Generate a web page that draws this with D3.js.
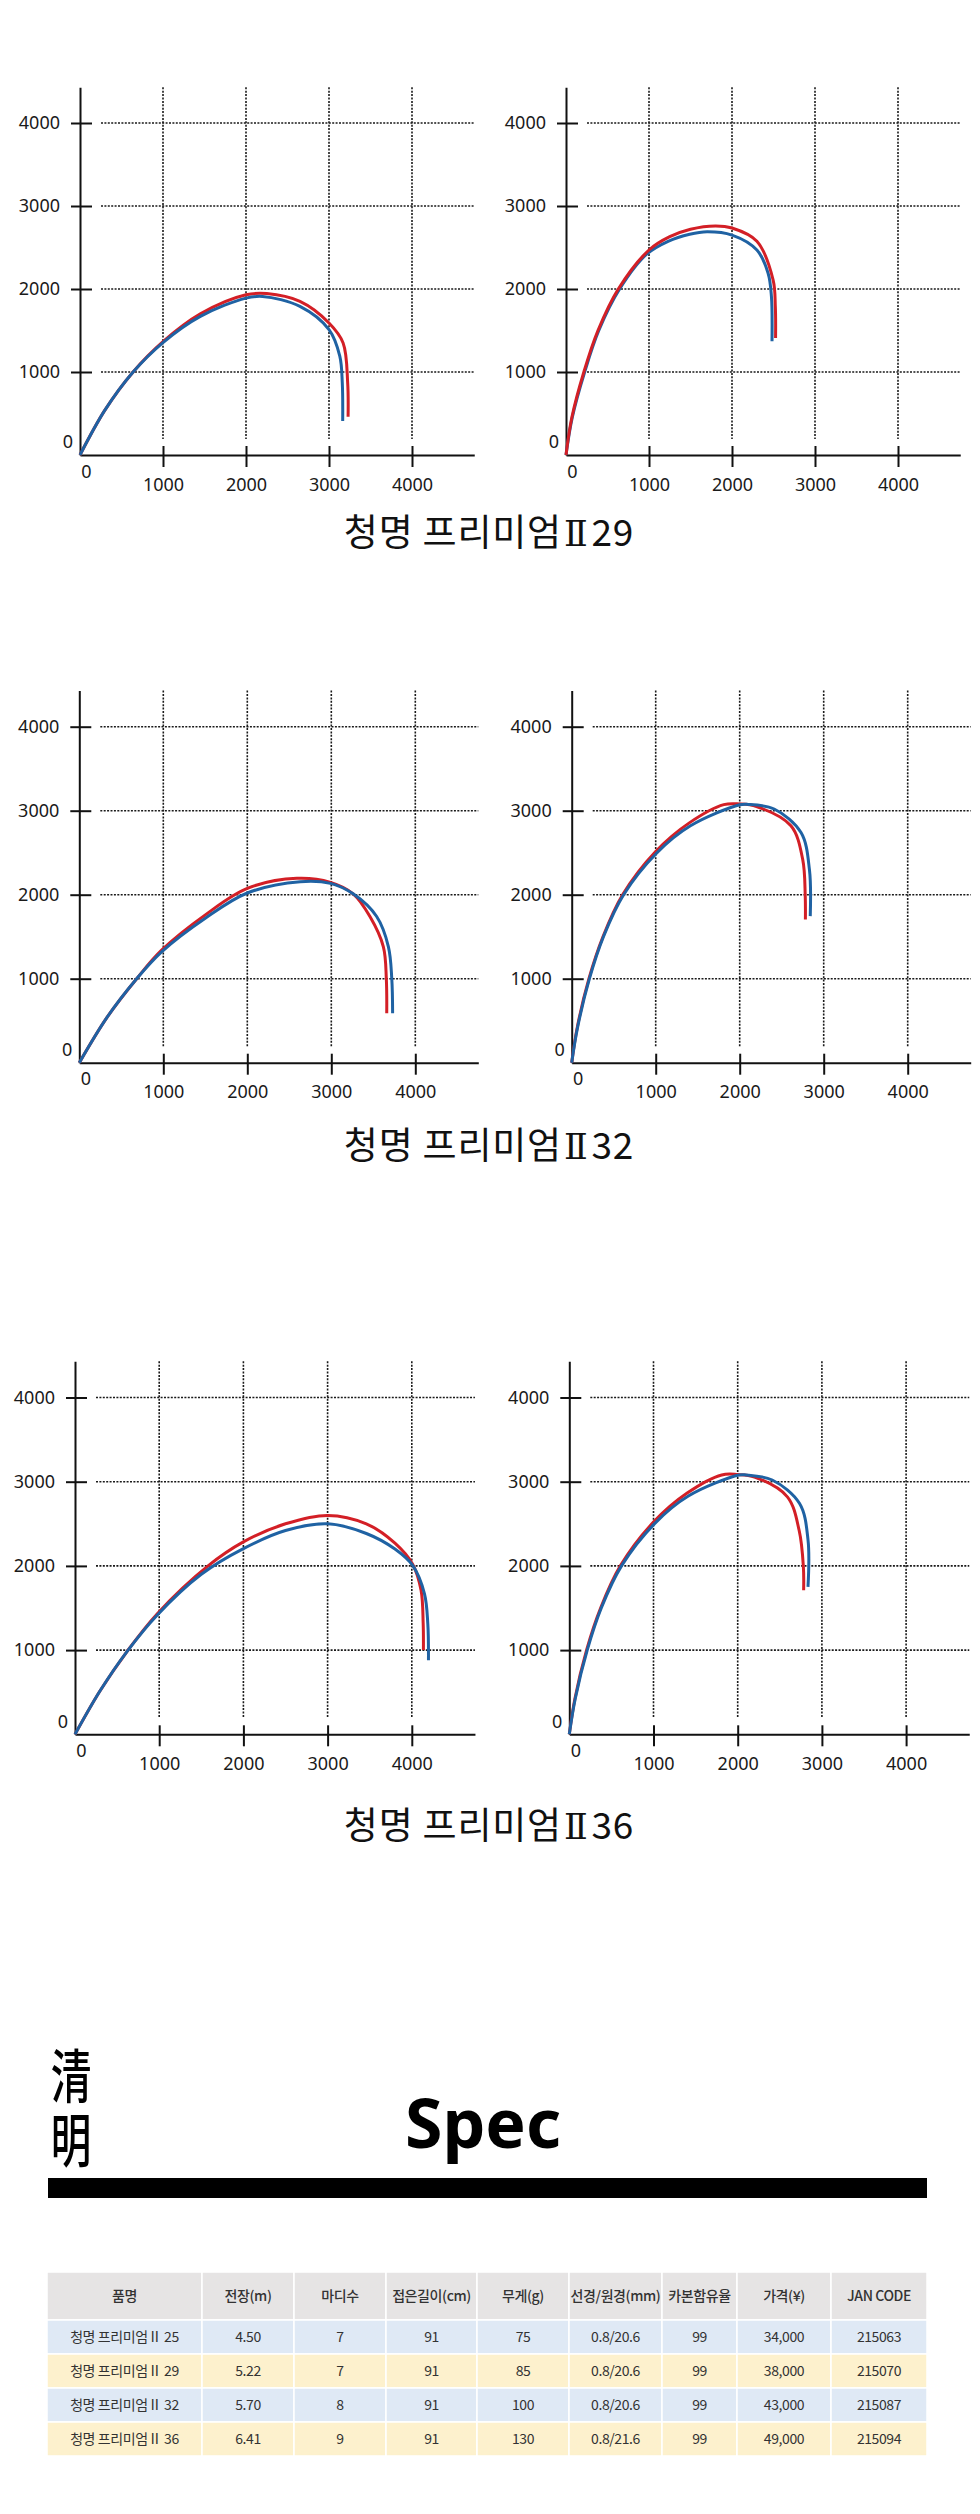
<!DOCTYPE html>
<meta charset="utf-8">
<script src="https://d3js.org/d3.v7.min.js"></script>
<style>
body { margin: 0; background: #fff; }
svg text { font-family: "Noto Sans", "Open Sans", sans-serif; }
.grid line { stroke: #1a1a1a; stroke-width: 1.6; stroke-dasharray: 2,1.4; }
.axis path, .axis line { stroke: #111; stroke-width: 2; }
.axis text { font-size: 18px; fill: #1a1a1a; font-family: "Noto Sans", sans-serif; }
.title { font-family: "Noto Sans CJK KR", sans-serif; font-size: 37px; fill: #111; letter-spacing: 0.8px; }
.cell text { font-family: "Noto Sans CJK KR", sans-serif; font-size: 14px; fill: #333; letter-spacing: -0.4px; }
</style>
<div id="my_dataviz"></div>
<script>

// tick values shared by the six plots
var xTicks = [0, 1000, 2000, 3000, 4000];
var yTicks = [0, 1000, 2000, 3000, 4000];

var titles = ["청명 프리미엄Ⅱ29", "청명 프리미엄Ⅱ32", "청명 프리미엄Ⅱ36"];

// trajectories [distance, height]
var blue29L = [[0,0],[300,540],[640,1000],[1000,1355],[1450,1670],[2000,1890],[2200,1910],[2650,1790],[3000,1510],[3130,1190],[3160,870],[3165,410]];
var red29L  = [[0,0],[300,540],[640,1000],[1000,1365],[1450,1700],[2000,1930],[2250,1945],[2650,1850],[3000,1590],[3170,1350],[3225,870],[3230,460]];

var blue29R = [[0,0],[75,450],[225,1000],[395,1500],[646,2000],[972,2420],[1230,2575],[1490,2660],[1700,2690],[2000,2650],[2300,2470],[2435,2190],[2475,1910],[2482,1370]];
var red29R  = [[0,0],[70,450],[215,1000],[385,1500],[630,2000],[1000,2470],[1250,2630],[1500,2720],[1800,2760],[2000,2735],[2300,2575],[2495,2110],[2522,1790],[2525,1410]];

var blue32L = [[0,0],[330,540],[683,1000],[980,1320],[1500,1720],[2000,2020],[2630,2155],[2990,2135],[3260,2010],[3540,1740],[3680,1380],[3720,1000],[3730,590]];
var red32L  = [[0,0],[330,540],[683,1000],[980,1340],[1500,1760],[2000,2075],[2590,2195],[2990,2147],[3260,2010],[3460,1740],[3620,1380],[3655,1000],[3660,590]];

var blue32R = [[0,0],[70,420],[211,1000],[378,1500],[618,2000],[1016,2500],[1414,2820],[2000,3070],[2100,3075],[2410,3020],[2730,2740],[2830,2300],[2840,1745]];
var red32R  = [[0,0],[66,420],[205,1000],[372,1500],[606,2000],[1000,2515],[1400,2855],[1810,3072],[2000,3080],[2200,3050],[2610,2820],[2750,2420],[2780,1990],[2782,1705]];

var blue36L = [[0,0],[300,520],[615,980],[975,1415],[1500,1900],[2000,2205],[2500,2420],[3000,2500],[3460,2385],[3800,2200],[4010,2005],[4150,1670],[4190,1315],[4198,880]];
var red36L  = [[0,0],[300,520],[615,980],[975,1430],[1580,2000],[2000,2285],[2500,2500],[3000,2600],[3460,2500],[3800,2270],[4010,2020],[4110,1710],[4135,1320],[4138,1000]];

var blue36R = [[0,0],[70,420],[213,1000],[380,1500],[620,2000],[1016,2505],[1414,2830],[2015,3080],[2100,3080],[2410,3020],[2735,2740],[2835,2310],[2835,1750]];
var red36R  = [[0,0],[66,420],[205,1000],[372,1500],[606,2000],[1000,2520],[1400,2865],[1810,3080],[2000,3085],[2200,3055],[2590,2820],[2730,2420],[2780,1990],[2783,1710]];

// spec table
var specHeaders  = ["품명", "전장(m)", "마디수", "접은길이(cm)", "무게(g)", "선경/원경(mm)", "카본함유율", "가격(¥)", "JAN CODE"];
var models       = ["청명 프리미엄Ⅱ 25", "청명 프리미엄Ⅱ 29", "청명 프리미엄Ⅱ 32", "청명 프리미엄Ⅱ 36"];
var lengths      = ["4.50", "5.22", "5.70", "6.41"];
var sections     = ["7", "7", "8", "9"];
var closedLength = ["91", "91", "91", "91"];
var weights      = ["75", "85", "100", "130"];
var diameters    = ["0.8/20.6", "0.8/20.6", "0.8/20.6", "0.8/21.6"];
var carbon       = ["99", "99", "99", "99"];
var prices       = ["34,000", "38,000", "43,000", "49,000"];
var janCodes     = ["215063", "215070", "215087", "215094"];

var svg = d3.select("#my_dataviz")
  .append("svg")
    .attr("width", 980)
    .attr("height", 2514);

svg.append("rect").attr("width", 980).attr("height", 2514).attr("fill", "#fff");

var blueColor = "#1f62a3",
    redColor = "#d31f26";

// plot placement: origin of each plot and pixels per 1000
var rows = [
  {y0: 455,    k: 83,   x0: [80, 566],     titleY: 546},
  {y0: 1062.7, k: 84,   x0: [79.3, 571.7], titleY: 1159},
  {y0: 1734.3, k: 84.2, x0: [75, 569.3],   titleY: 1839}
];

var panels = [
  {row: 0, side: 0, blue: blue29L, red: red29L, redTop: false},
  {row: 0, side: 1, blue: blue29R, red: red29R, redTop: true},
  {row: 1, side: 0, blue: blue32L, red: red32L, redTop: false},
  {row: 1, side: 1, blue: blue32R, red: red32R, redTop: false},
  {row: 2, side: 0, blue: blue36L, red: red36L, redTop: false},
  {row: 2, side: 1, blue: blue36R, red: red36R, redTop: false}
];

var xMax = 4750, yMax = 4430;

panels.forEach(function(p) {
  var r = rows[p.row];
  var x0 = r.x0[p.side], y0 = r.y0, k = r.k;

  var x = d3.scaleLinear().domain([0, xMax]).range([x0, x0 + xMax / 1000 * k]);
  var y = d3.scaleLinear().domain([0, yMax]).range([y0, y0 - yMax / 1000 * k]);

  var g = svg.append("g");

  // dotted grid
  var grid = g.append("g").attr("class", "grid");
  grid.selectAll(".h")
    .data(yTicks.filter(function(d) { return d > 0; }))
    .enter().append("line")
      .attr("x1", x0 + 21)
      .attr("x2", x(xMax))
      .attr("y1", function(d) { return y(d); })
      .attr("y2", function(d) { return y(d); });
  grid.selectAll(".v")
    .data(xTicks.filter(function(d) { return d > 0; }))
    .enter().append("line")
      .attr("x1", function(d) { return x(d); })
      .attr("x2", function(d) { return x(d); })
      .attr("y1", y(yMax))
      .attr("y2", y0 - 16);

  // y axis
  var ya = g.append("g")
    .attr("class", "axis")
    .attr("transform", "translate(" + x0 + ",0)")
    .call(d3.axisLeft(y).tickValues(yTicks).tickFormat(d3.format("d"))
      .tickSize(9).tickPadding(11).tickSizeOuter(0));
  ya.selectAll(".tick line").attr("x1", 12);
  ya.selectAll(".tick").filter(function(d) { return d === 0; })
    .each(function() {
      d3.select(this).select("line").remove();
      d3.select(this).select("text").attr("x", -7).attr("y", -13);
    });

  // x axis
  var xa = g.append("g")
    .attr("class", "axis")
    .attr("transform", "translate(0," + y0 + ")")
    .call(d3.axisBottom(x).tickValues(xTicks).tickFormat(d3.format("d"))
      .tickSize(12).tickPadding(11).tickSizeOuter(0));
  xa.selectAll(".tick line").attr("y1", -9);
  xa.selectAll(".tick").filter(function(d) { return d === 0; })
    .each(function() {
      d3.select(this).select("line").remove();
      d3.select(this).select("text").attr("x", 6).attr("y", 10);
    });

  var line = d3.line()
    .x(function(d) { return x(d[0]); })
    .y(function(d) { return y(d[1]); })
    .curve(d3.curveCatmullRom.alpha(0.5));

  var order = p.redTop ? [[p.blue, blueColor], [p.red, redColor]] : [[p.red, redColor], [p.blue, blueColor]];
  order.forEach(function(s) {
    g.append("path")
      .datum(s[0])
      .attr("fill", "none")
      .attr("stroke", s[1])
      .attr("stroke-width", 3)
      .attr("d", line);
  });
});

// titles under each pair, the roman numeral set in a serif face
var titleText = svg.selectAll(".title")
  .data(titles)
  .enter().append("text")
    .attr("class", "title")
    .attr("x", 489)
    .attr("y", function(d, i) { return rows[i].titleY; })
    .attr("text-anchor", "middle");
titleText.each(function(d) {
  var parts = d.split("Ⅱ");
  var t = d3.select(this);
  t.append("tspan").text(parts[0]);
  t.append("tspan")
    .style("font-family", "'DejaVu Serif', 'Liberation Serif', serif")
    .style("font-size", "35px")
    .attr("dx", 2)
    .text("Ⅱ");
  t.append("tspan").attr("dx", 3).text(parts[1]);
});

// Spec heading
svg.append("text")
  .attr("transform", "translate(71,2047) scale(0.7,1)")
  .style("writing-mode", "vertical-rl")
  .style("font-family", "'Noto Sans CJK JP'")
  .style("font-size", "58px")
  .style("font-weight", 500)
  .style("letter-spacing", "6px")
  .text("清明");

svg.append("text")
  .attr("x", 483)
  .attr("y", 2148)
  .attr("text-anchor", "middle")
  .style("font-family", "'Noto Sans', sans-serif")
  .style("font-weight", 700)
  .style("font-size", "68px")
  .text("Spec");

svg.append("rect")
  .attr("x", 48).attr("y", 2178)
  .attr("width", 879).attr("height", 20)
  .attr("fill", "#000");

// table
var colEdges = [47, 202, 294, 386, 477, 569, 662, 737, 831, 927];
var columns = [models, lengths, sections, closedLength, weights, diameters, carbon, prices, janCodes];
var tableRows = [specHeaders].concat(models.map(function(m, i) {
  return columns.map(function(c) { return c[i]; });
}));
var rowTops = [2272, 2320, 2354, 2388, 2422, 2456];
var rowFill = ["#e6e4e4", "#dfe9f5", "#fdf1cd", "#dfe9f5", "#fdf1cd"];

var tbl = svg.append("g").attr("class", "cell");
tableRows.forEach(function(row, ri) {
  row.forEach(function(v, ci) {
    var x1 = colEdges[ci], x2 = colEdges[ci + 1];
    var t = rowTops[ri], b = rowTops[ri + 1];
    tbl.append("rect")
      .attr("x", x1).attr("y", t)
      .attr("width", x2 - x1).attr("height", b - t)
      .attr("fill", rowFill[ri])
      .attr("stroke", "#fff")
      .attr("stroke-width", 1.5);
    tbl.append("text")
      .attr("x", (x1 + x2) / 2)
      .attr("y", (t + b) / 2)
      .attr("dy", "0.35em")
      .attr("text-anchor", "middle")
      .style("font-weight", ri === 0 ? 500 : 400)
      .text(v);
  });
});

</script>
